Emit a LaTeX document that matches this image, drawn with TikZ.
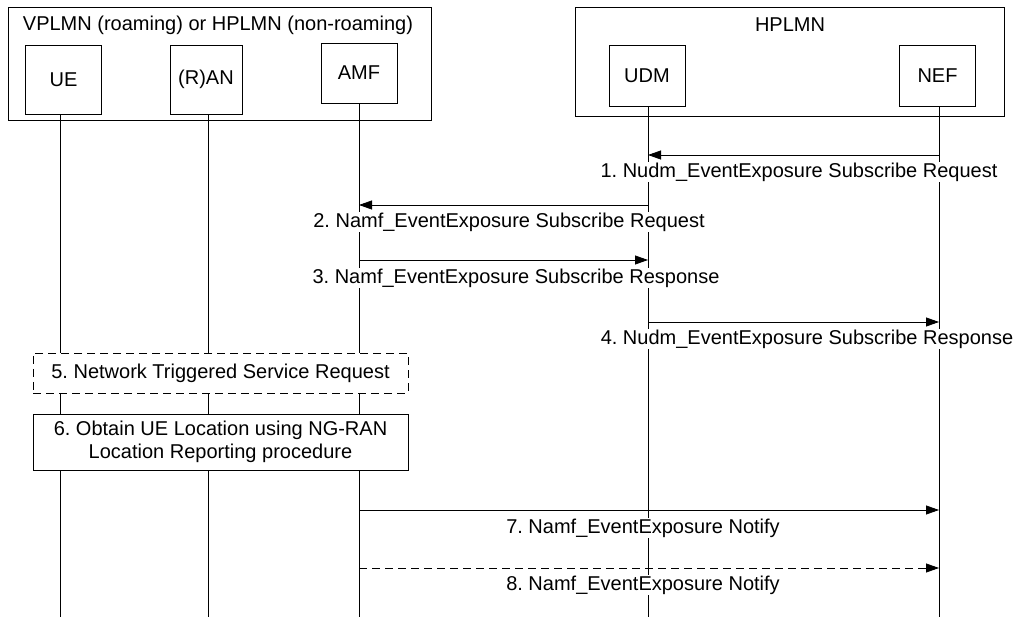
\documentclass[tikz,border=0pt]{standalone}
\usepackage{fontspec}
\setmainfont{Liberation Sans}
\usetikzlibrary{arrows.meta}
\frenchspacing
\begin{document}
\begin{tikzpicture}[x=1pt,y=-1pt,
  font=\fontsize{20}{23}\selectfont,
  line width=0.8pt,
  entity/.style={draw, fill=white, minimum width=76pt, inner sep=0pt},
  group/.style={draw, inner sep=0pt},
  msg/.style={-{Triangle[length=13pt,width=9pt]}},
  lbl/.style={fill=white, inner sep=1pt, anchor=center},
  procbox/.style={draw, fill=white, minimum width=375pt, inner sep=0pt, align=center},
  dsh/.style={dash pattern=on 8pt off 5pt}]
\useasboundingbox (0,0) rectangle (1021,617);
% group frames
\node[group, minimum width=423pt, minimum height=113pt] (vplmn) at (219.5,63.5) {};
\node[group, minimum width=429pt, minimum height=109pt] (hplmn) at (789.5,61.5) {};
\node (vtitle) at (218,25) {VPLMN (roaming) or HPLMN (non-roaming)};
\node (htitle) at (790,25) {HPLMN};
% entities
\node[entity, minimum height=69pt] (ue) at (63.5,79.5) {UE};
\node[entity, minimum width=72pt, minimum height=69pt] (ran) at (206,79.5) {(R)AN};
\node[entity, minimum height=60pt] (amf) at (359,73) {AMF};
\node[entity, minimum height=61pt] (udm) at (647,75.5) {UDM};
\node[entity, minimum height=61pt] (nef) at (937.5,75.5) {NEF};
% lifeline ends
\coordinate (ueB) at (60,617);
\coordinate (ranB) at (208,617);
\coordinate (amfB) at (359,617);
\coordinate (udmB) at (648,617);
\coordinate (nefB) at (939,617);
\draw (ue.south -| ueB) -- (ueB);
\draw (ran.south -| ranB) -- (ranB);
\draw (amf.south -| amfB) -- (amfB);
\draw (udm.south -| udmB) -- (udmB);
\draw (nef.south -| nefB) -- (nefB);
% message anchor points
\foreach \n/\y in {1/155,2/205,3/260,4/322,7/510,8/568}{
  \coordinate (ue\n) at (60,\y);
  \coordinate (amf\n) at (359,\y);
  \coordinate (udm\n) at (648,\y);
  \coordinate (nef\n) at (939,\y);
}
\draw[msg] (nef1) -- (udm1);
\node[lbl] (l1) at (799,172) {1. Nudm\_EventExposure Subscribe Request};
\draw[msg] (udm2) -- (amf2);
\node[lbl] (l2) at (509,222) {2. Namf\_EventExposure Subscribe Request};
\draw[msg] (amf3) -- (udm3);
\node[lbl] (l3) at (516,278) {3. Namf\_EventExposure Subscribe Response};
\draw[msg] (udm4) -- (nef4);
\node[lbl] (l4) at (807,339) {4. Nudm\_EventExposure Subscribe Response};
% procedure boxes
\node[procbox, dsh, minimum height=40pt] (p5) at (220.5,373) {5. Network Triggered Service Request};
\node[procbox, minimum height=56pt] (p6) at (220.5,442) {6. Obtain UE Location using NG-RAN\\Location Reporting procedure};
\draw[msg] (amf7) -- (nef7);
\node[lbl] (l7) at (643,528) {7. Namf\_EventExposure Notify};
\draw[msg, dsh] (amf8) -- (nef8);
\node[lbl] (l8) at (643,585) {8. Namf\_EventExposure Notify};
\end{tikzpicture}
\end{document}
